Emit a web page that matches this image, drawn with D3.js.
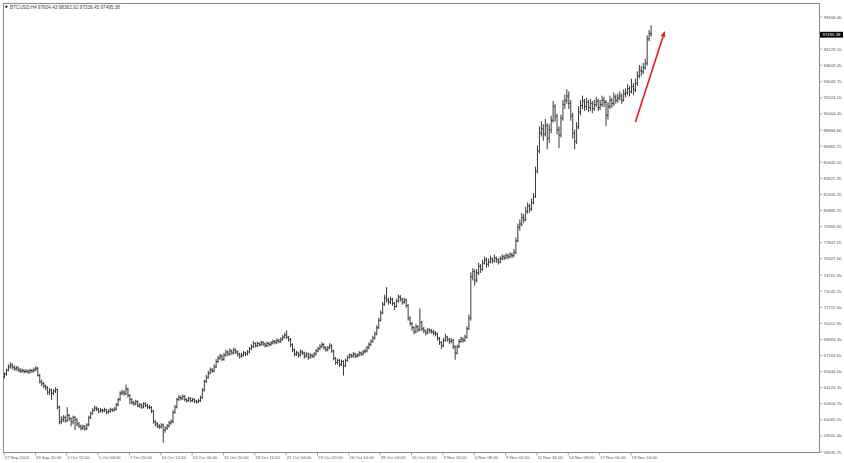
<!DOCTYPE html>
<html><head><meta charset="utf-8">
<script src="https://cdn.jsdelivr.net/npm/d3@7/dist/d3.min.js"></script>
<style>html,body{margin:0;padding:0;background:#fff;}svg{display:block;}</style>
</head><body>
<svg id="chart" width="844" height="463"></svg>
<script>
// ---- DATA (BTCUSD, H4, one entry per 4-hour bar) ----
const symbolTitle = "BTCUSD,H4 97604.43 98362.92 97339.45 97495.38";
const open = [
65150,65400,65800,66100,66250,66050,65900,66000,65800,65700,
65750,65650,65700,65600,65750,65700,65850,65950,65300,64700,
64500,64300,64150,63700,63900,63600,63800,63950,62300,60900,
61100,61300,61000,61500,61200,60900,61300,61100,60700,60500,
60300,60450,60250,60600,61300,61700,62000,62200,62100,61900,
62000,61950,62050,61800,61900,62050,62000,62100,62500,63000,
63600,63700,63550,64000,63400,63000,62700,62600,62800,62400,
62500,62300,62600,62450,62300,62250,61900,60900,60700,60500,
60400,60600,60100,60300,60500,60800,60900,61800,62300,63000,
63200,63100,63300,63000,62900,63100,62900,63000,62850,62800,
62900,63200,63900,64700,65100,65500,65800,65700,66100,66600,
66900,67100,66800,67200,67500,67300,67600,67400,67700,67500,
67300,67100,67200,67400,67300,67500,67800,68000,68300,68100,
68300,68200,68400,68250,68100,68300,68200,68350,68500,68400,
68600,68500,68700,68900,69100,68900,68700,68200,67700,67300,
67400,67200,67500,67400,67100,67300,67000,67200,67100,67300,
67600,67800,68000,68200,67900,67700,67900,68100,67600,66900,
66500,66700,66300,66600,66200,66700,67000,67200,67100,67300,
67100,67200,67400,67300,67500,67600,67900,68200,68500,68800,
69200,69800,70500,71200,72000,72600,72400,72200,72500,72100,
71800,72300,72700,72500,72200,72400,71900,70700,70200,69800,
69400,69900,69600,70300,69700,69500,69300,69600,69500,69400,
69300,69200,68800,68400,68100,68600,68900,68700,68500,68600,
68000,67400,68000,68500,68700,68600,68900,69700,70700,74600,
75100,74300,75000,75600,75300,75900,76200,75800,76000,76300,
76100,76400,76200,76000,76300,76500,76400,76600,76500,76700,
76600,76900,78000,79300,79600,80200,80000,80800,81300,81000,
81600,82200,84600,86500,88200,88600,88100,88900,87700,88500,
89400,90700,89800,88500,88000,89600,90900,91300,91700,91000,
89800,88200,87400,88800,90200,90800,91200,90700,91100,90600,
91000,90500,90900,91200,90600,90900,91300,91100,89900,90700,
91300,91000,91600,91300,91500,91700,91300,91900,92000,92400,
92100,92600,92300,92900,93600,94100,94000,94400,94800,97100,
97604.43];
const high = [
65550,65900,66300,66500,66400,66200,66150,66100,65950,65900,
65850,65850,65800,65900,65850,66000,66150,66050,65400,64850,
64650,64400,64250,64050,64000,63950,64150,64000,62400,61400,
61500,61450,62250,61600,61300,61450,61400,61200,60850,60600,
60600,60550,60750,61450,61850,62150,62400,62300,62200,62150,
62100,62200,62100,62050,62200,62150,62250,62650,63150,63750,
63900,63850,64400,64100,63500,63100,62850,62950,62900,62650,
62600,62750,62700,62550,62450,62350,62000,61050,60850,60650,
60750,60700,60450,60650,60950,61100,61950,62450,63150,63400,
63350,63450,63400,63100,63250,63200,63150,63100,62950,63050,
63350,64050,64850,65300,65700,66000,65950,66300,66800,67100,
67300,67200,67400,67700,67600,67800,67700,67900,67800,67600,
67400,67400,67550,67500,67650,67950,68200,68500,68400,68450,
68400,68550,68500,68350,68450,68400,68500,68650,68600,68750,
68700,68850,69100,69300,69500,69000,68800,68300,67800,67600,
67500,67700,67650,67500,67450,67400,67350,67300,67450,67750,
67950,68200,68400,68300,68000,68050,68300,68200,67700,67000,
66850,66800,66750,66700,66850,67150,67350,67300,67450,67400,
67350,67550,67500,67650,67800,68050,68400,68650,69000,69400,
70000,70700,71400,72200,72900,73600,72600,72700,72600,72200,
72500,72900,72850,72600,72600,72500,72000,70850,70300,69900,
70100,70000,71600,70400,69850,69600,69750,69700,69650,69550,
69450,69300,68900,68500,68800,69200,69000,68800,68800,68700,
68100,68150,68700,68900,68850,69100,69900,71000,75000,75400,
75300,75300,75900,75800,76200,76500,76400,76300,76600,76400,
76700,76500,76350,76500,76700,76650,76800,76750,76900,76850,
77200,78300,79600,80000,80600,80500,81200,81600,81500,82000,
82500,85000,87000,88800,89300,89000,89500,89100,89000,89800,
91200,90900,90000,88800,89900,91300,91800,92300,92100,91300,
90100,88500,89200,90700,91300,91700,91400,91500,91300,91400,
91200,91300,91600,91400,91300,91700,91600,91300,91100,91700,
91500,92000,91800,91900,92100,91900,92300,92400,92800,92600,
93300,92900,93300,94000,94600,94500,94800,95200,97400,97900,
98362.92];
const low = [
65050,65300,65700,65950,65900,65750,65750,65650,65550,65550,
65500,65550,65450,65500,65550,65600,65700,65200,64550,64300,
64100,63900,63500,63450,63000,63450,63650,62100,60700,60700,
60900,60850,60900,61000,60500,60700,60150,60500,60350,60100,
60150,60050,60150,60500,61200,61600,61900,61950,61750,61800,
61800,61850,61650,61700,61800,61850,61900,62000,62400,62900,
63450,63400,63450,63200,62600,62550,62450,62500,62300,62250,
62150,62200,62300,62150,62100,61750,60750,60500,60350,60250,
60300,58950,59900,60150,60400,60650,60800,61700,62200,62900,
62950,63000,62850,62750,62800,62750,62800,62700,62650,62700,
62800,63100,63800,64600,65000,65400,65550,65600,66000,66500,
66800,66650,66700,67100,67150,67200,67250,67300,67350,67100,
66900,67000,67100,67150,67200,67400,67700,67900,67950,68000,
68050,68100,68100,67950,68000,68050,68100,68250,68250,68300,
68350,68400,68600,68800,68750,68500,68000,67500,67100,67150,
67000,67100,67250,66900,67000,66800,66900,66950,67000,67200,
67500,67700,67900,67750,67550,67600,67800,67450,66750,66300,
66350,66100,66200,65300,66100,66600,66900,66950,67000,66950,
67000,67100,67150,67200,67400,67500,67800,68100,68400,68700,
69100,69700,70400,71100,71900,72200,72000,72050,71900,71500,
71700,72200,72300,72000,72100,71700,70500,70000,69550,69200,
69300,69400,69500,69500,69300,69100,69200,69300,69250,69100,
69000,68600,68200,67800,68000,68500,68500,68300,68350,67800,
66800,67300,67900,68400,68400,68500,68800,69600,70500,74300,
73800,74100,74800,75000,75200,75800,75500,75600,75900,75900,
76000,75950,75800,75900,76200,76200,76300,76300,76400,76400,
76500,76800,77900,79000,79400,79700,79900,80600,80700,80900,
81500,82100,84400,86300,87900,87500,87900,86700,87300,88200,
89200,89300,88100,86800,87800,89400,90500,91000,90500,89400,
87700,86700,87200,88600,89900,90500,90300,90400,90200,90300,
90100,90300,90700,90300,90400,90700,90700,88900,89500,90500,
90600,90800,91000,91100,91300,91000,91200,91600,91800,91700,
92000,91800,92100,92700,93400,93600,93800,94200,94600,96900,
97339.45];
const close = [
65400,65800,66100,66250,66050,65900,66000,65800,65700,65750,
65650,65700,65600,65750,65700,65850,65950,65300,64700,64500,
64300,64150,63700,63900,63600,63800,63950,62300,60900,61100,
61300,61000,61500,61200,60900,61300,61100,60700,60500,60300,
60450,60250,60600,61300,61700,62000,62200,62100,61900,62000,
61950,62050,61800,61900,62050,62000,62100,62500,63000,63600,
63700,63550,64000,63400,63000,62700,62600,62800,62400,62500,
62300,62600,62450,62300,62250,61900,60900,60700,60500,60400,
60600,60100,60300,60500,60800,60900,61800,62300,63000,63200,
63100,63300,63000,62900,63100,62900,63000,62850,62800,62900,
63200,63900,64700,65100,65500,65800,65700,66100,66600,66900,
67100,66800,67200,67500,67300,67600,67400,67700,67500,67300,
67100,67200,67400,67300,67500,67800,68000,68300,68100,68300,
68200,68400,68250,68100,68300,68200,68350,68500,68400,68600,
68500,68700,68900,69100,68900,68700,68200,67700,67300,67400,
67200,67500,67400,67100,67300,67000,67200,67100,67300,67600,
67800,68000,68200,67900,67700,67900,68100,67600,66900,66500,
66700,66300,66600,66200,66700,67000,67200,67100,67300,67100,
67200,67400,67300,67500,67600,67900,68200,68500,68800,69200,
69800,70500,71200,72000,72600,72400,72200,72500,72100,71800,
72300,72700,72500,72200,72400,71900,70700,70200,69800,69400,
69900,69600,70300,69700,69500,69300,69600,69500,69400,69300,
69200,68800,68400,68100,68600,68900,68700,68500,68600,68000,
67400,68000,68500,68700,68600,68900,69700,70700,74600,75100,
74300,75000,75600,75300,75900,76200,75800,76000,76300,76100,
76400,76200,76000,76300,76500,76400,76600,76500,76700,76600,
76900,78000,79300,79600,80200,80000,80800,81300,81000,81600,
82200,84600,86500,88200,88600,88100,88900,87700,88500,89400,
90700,89800,88500,88000,89600,90900,91300,91700,91000,89800,
88200,87400,88800,90200,90800,91200,90700,91100,90600,91000,
90500,90900,91200,90600,90900,91300,91100,89900,90700,91300,
91000,91600,91300,91500,91700,91300,91900,92000,92400,92100,
92600,92300,92900,93600,94100,94000,94400,94800,97100,97604.43,
97495.38];
const timeTickBars = [0,16,32,48,64,80,96,112,128,144,160,176,192,208,224,240,256,272,288,304,320];
const timeTickLabels = ["27 Sep 2024","29 Sep 20:00","2 Oct 12:00","5 Oct 06:00","7 Oct 20:00","10 Oct 12:00","13 Oct 04:00","15 Oct 20:00","18 Oct 12:00","21 Oct 04:00","23 Oct 20:00","26 Oct 14:00","29 Oct 04:00","31 Oct 20:00","3 Nov 16:00","6 Nov 08:00","9 Nov 02:00","11 Nov 16:00","14 Nov 08:00","17 Nov 00:00","19 Nov 16:00"];
const priceTickLabels = ["99168.40","97648.75","96129.10","94609.45","93043.75","91524.10","90004.45","88484.80","86965.15","85445.50","83925.85","82406.20","80886.55","79366.90","77847.25","76327.60","74761.90","73242.25","71722.60","70202.95","68683.30","67163.65","65644.00","64124.35","62604.70","61085.05","59565.40","58045.75"];
const currentPrice = "97495.38";
const arrowFrom = {bar: 322, price: 89240};
const arrowTo = {bar: 337, price: 97850};

// ---- LAYOUT ----
const W = 844, H = 463;
const frame = {left: 3.5, top: 3.5, right: 819.5, bottom: 452.5};
const svg = d3.select("#chart");
svg.append("rect").attr("width", W).attr("height", H).attr("fill", "#fff");

const x = d3.scaleLinear().domain([0, 320]).range([4.5, 631.5]);
const y = d3.scaleLinear().domain([58045.75, 99168.40]).range([452, 17]);

const FONT = "Liberation Sans, Arial, sans-serif";

// frame
svg.append("rect")
  .attr("x", frame.left).attr("y", frame.top)
  .attr("width", frame.right - frame.left).attr("height", frame.bottom - frame.top)
  .attr("fill", "none").attr("stroke", "#8a8a8a").attr("stroke-width", 1);

// bars
const bars = d3.range(close.length).map(i => ({i, o: open[i], h: high[i], l: low[i], c: close[i]}));
const g = svg.append("g").attr("stroke", "#2e2e2e").attr("stroke-width", 0.95);
g.selectAll("line.hl").data(bars).join("line").attr("class", "hl")
  .attr("x1", d => x(d.i)).attr("x2", d => x(d.i))
  .attr("y1", d => y(d.h) - 0.3).attr("y2", d => y(d.l) + 0.3);
g.selectAll("line.op").data(bars).join("line").attr("class", "op")
  .attr("x1", d => x(d.i) - 1).attr("x2", d => x(d.i))
  .attr("y1", d => y(d.o)).attr("y2", d => y(d.o));
g.selectAll("line.cl").data(bars).join("line").attr("class", "cl")
  .attr("x1", d => x(d.i)).attr("x2", d => x(d.i) + 1)
  .attr("y1", d => y(d.c)).attr("y2", d => y(d.c));

// price axis (right)
const pa = svg.append("g");
priceTickLabels.forEach(t => {
  const yy = y(+t);
  pa.append("line").attr("x1", frame.right).attr("x2", frame.right + 2.5)
    .attr("y1", yy).attr("y2", yy).attr("stroke", "#8a8a8a").attr("stroke-width", 0.8);
  pa.append("text").attr("x", 823.5).attr("y", yy).attr("dy", "0.35em")
    .attr("font-family", FONT).attr("font-size", 4.3).attr("fill", "#555").text(t);
});
// current price box
const cy = y(+currentPrice);
svg.append("rect").attr("x", 820).attr("y", cy - 2.9).attr("width", 23).attr("height", 5.8).attr("fill", "#000");
svg.append("text").attr("x", 822.5).attr("y", cy).attr("dy", "0.35em")
  .attr("font-family", FONT).attr("font-size", 4.3).attr("fill", "#fff").text(currentPrice);

// time axis (bottom)
const ta = svg.append("g");
timeTickBars.forEach((b, k) => {
  const xx = x(b);
  ta.append("line").attr("x1", xx - 0.5).attr("x2", xx - 0.5).attr("y1", frame.bottom).attr("y2", frame.bottom + 3)
    .attr("stroke", "#8a8a8a").attr("stroke-width", 0.8);
  ta.append("text").attr("x", xx).attr("y", 457.5).attr("dy", "0.35em")
    .attr("font-family", FONT).attr("font-size", 4.3).attr("fill", "#555").text(timeTickLabels[k]);
});

// title
svg.append("path").attr("d", "M4.5,5.8 L8.1,5.8 L6.3,8.6 Z").attr("fill", "#333");
svg.append("text").attr("x", 10).attr("y", 7.3).attr("dy", "0.35em")
  .attr("font-family", FONT).attr("font-size", 4.7).attr("fill", "#444").text(symbolTitle);

// red trend arrow annotation
const ax1 = x(arrowFrom.bar), ay1 = y(arrowFrom.price), ax2 = x(arrowTo.bar), ay2 = y(arrowTo.price);
const ang = Math.atan2(ay2 - ay1, ax2 - ax1);
const headLen = 6, headW = 2.4;
const bx = ax2 - headLen * Math.cos(ang), by = ay2 - headLen * Math.sin(ang);
svg.append("line").attr("x1", ax1).attr("y1", ay1).attr("x2", bx).attr("y2", by)
  .attr("stroke", "#f0141e").attr("stroke-width", 1.6);
svg.append("path")
  .attr("d", `M${ax2},${ay2} L${bx - headW * Math.sin(ang)},${by + headW * Math.cos(ang)} L${bx + headW * Math.sin(ang)},${by - headW * Math.cos(ang)} Z`)
  .attr("fill", "#f0141e");
</script>
</body></html>
